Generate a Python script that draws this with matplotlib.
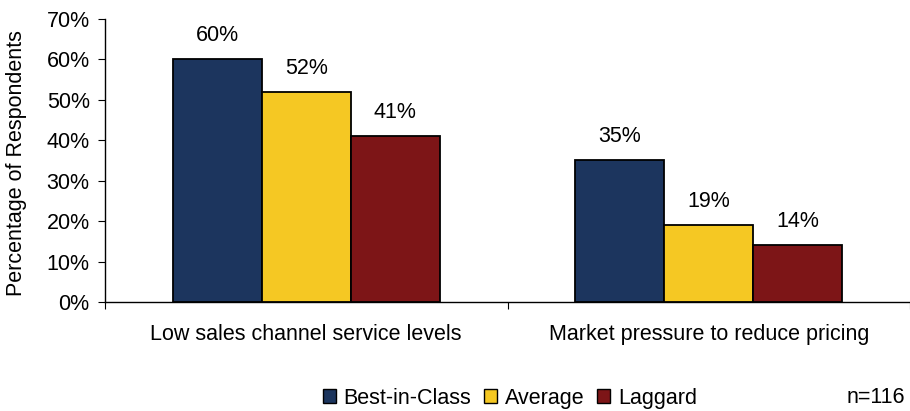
import matplotlib
matplotlib.use("Agg")
import matplotlib.pyplot as plt
import numpy as np
from matplotlib.patches import Patch

plt.rcParams['font.family'] = ['Liberation Sans', 'DejaVu Sans']

categories = ["Low sales channel service levels", "Market pressure to reduce pricing"]
series_names = ["Best-in-Class", "Average", "Laggard"]
best = [60, 35]
average = [52, 19]
laggard = [41, 14]
colors = ["#1C355E", "#F5C823", "#7D1517"]
yticks = [0, 10, 20, 30, 40, 50, 60, 70]

FS = 15.5
fig = plt.figure(figsize=(9.10, 4.11), dpi=100)
ax = fig.add_axes([105/910, 1-302/411, 805/910, (302-19)/411])

x = np.arange(len(categories))
w = 0.221
series = [best, average, laggard]
for i, (vals, c) in enumerate(zip(series, colors)):
    pos = x + (i - 1) * w
    ax.bar(pos, vals, width=w, color=c, edgecolor="black", linewidth=1.3, zorder=3)
    for xb, v in zip(pos, vals):
        ax.annotate(f"{v}%", (xb, v), xytext=(0, 17), textcoords="offset points",
                    ha="center", va="center", fontsize=FS)

ax.set_ylim(0, 70)
ax.set_xlim(-0.5, -0.5 + 805/407)
ax.set_yticks(yticks)
ax.set_yticklabels([f"{t}%" for t in yticks], fontsize=FS)
ax.set_xticks([-0.5, 0.5, 1.5], minor=False)
ax.set_xticklabels([])
ax.set_xticks(x, minor=True)
ax.set_xticklabels(categories, minor=True, fontsize=FS)
ax.tick_params(axis="x", which="minor", length=0, pad=16)
ax.tick_params(axis="x", which="major", length=5, direction="out")
ax.tick_params(axis="y", length=5, direction="out", pad=6)
for s in ["top", "right"]:
    ax.spines[s].set_visible(False)
ax.spines["left"].set_linewidth(1.0)
ax.spines["bottom"].set_linewidth(1.0)
ax.set_ylabel("Percentage of Respondents", fontsize=FS)
ax.yaxis.set_label_coords((27-105)/805, (302-163.5)/283)

handles = [Patch(facecolor=c, edgecolor="black", linewidth=1.0) for c in colors]
fig.legend(handles, series_names, loc="center", bbox_to_anchor=(510/910, 1-398/411),
           ncol=3, frameon=False, fontsize=FS, handlelength=0.6, handleheight=0.6,
           handletextpad=0.35, columnspacing=0.6, borderpad=0)
fig.text(905/910, 1-397/411, "n=116", ha="right", va="center", fontsize=FS)

fig.savefig("out.png", dpi=100)
